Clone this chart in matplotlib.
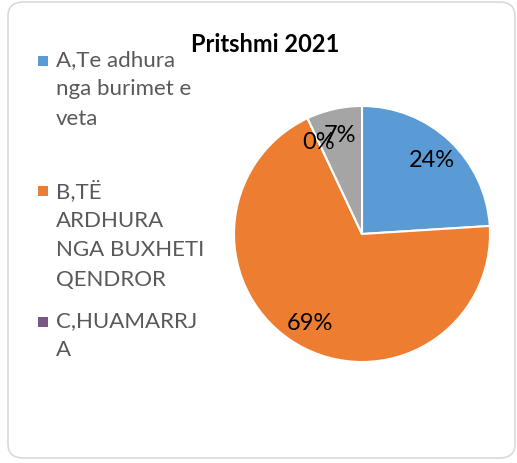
import matplotlib
matplotlib.use('Agg')
import matplotlib.pyplot as plt
from matplotlib.patches import FancyBboxPatch, Rectangle

plt.rcParams['font.family'] = ['Lato', 'DejaVu Sans']

# data
title = 'Pritshmi 2021'
categories = ['A,Te adhura\nnga burimet e\nveta',
              'B,TË\nARDHURA\nNGA BUXHETI\nQENDROR',
              'C,HUAMARRJ\nA',
              'D']
values = [24, 69, 0, 7]
colors = ['#5B9BD5', '#ED7D31', '#7A5586', '#A5A5A5']
legend_shown = 3

W, H = 517, 464
fig = plt.figure(figsize=(W / 100, H / 100), dpi=100)

# rounded chart border
border = FancyBboxPatch((8 / W, 5 / H), 507 / W, 456 / H,
                        boxstyle='round,pad=0,rounding_size=0.03',
                        transform=fig.transFigure, facecolor='none',
                        edgecolor='#D9D9D9', linewidth=1.2)
fig.patches.append(border)

# pie
cx, cy, r = 362, 235, 128
ax = fig.add_axes([(cx - r) / W, (H - cy - r) / H, 2 * r / W, 2 * r / H])
wedges, texts, autotexts = ax.pie(values, colors=colors, startangle=90,
                                  counterclock=False, autopct='%1.0f%%',
                                  pctdistance=0.8,
                                  wedgeprops=dict(edgecolor='white', linewidth=1.5),
                                  textprops=dict(fontsize=17, color='black'))
ax.set_xlim(-1, 1)
ax.set_ylim(-1, 1)
ax.set_aspect('equal')
ax.axis('off')

fig.text(265 / W, 1 - 45 / H, title, ha='center', va='center',
         fontsize=17, fontweight='bold', color='black')

# legend (Excel style, marker next to first line)
starts = [50, 180, 311]
for i in range(legend_shown):
    y = starts[i]
    fig.patches.append(Rectangle((38 / W, 1 - (y + 17) / H), 10 / W, 10 / H,
                                 transform=fig.transFigure,
                                 facecolor=colors[i], edgecolor='none'))
    fig.text(56 / W, 1 - y / H, categories[i], ha='left', va='top',
             fontsize=16, color='#595959', linespacing=1.58)

fig.savefig('out.png', dpi=100)
